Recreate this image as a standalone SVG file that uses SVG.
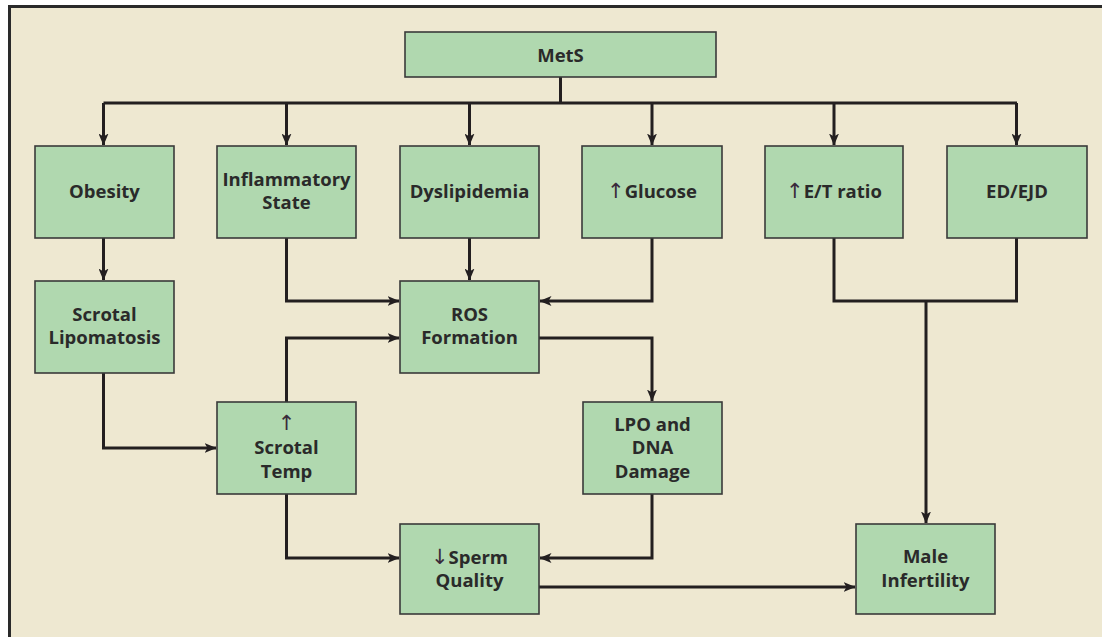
<svg xmlns="http://www.w3.org/2000/svg" width="1102" height="637" viewBox="0 0 1102 637">
<defs>
<style>
.bg{fill:#EEE8D1}
.frame{fill:none;stroke:#2a2a2a;stroke-width:3}
.box{fill:#B0D8AF;stroke:#3a3a3a;stroke-width:1.6}
.lbl{font-family:"Open Sans","Liberation Sans",sans-serif;font-weight:700;font-size:18.5px;fill:#2a2a2a;text-anchor:middle}
.arr{font-family:"DejaVu Sans",sans-serif;font-weight:400;font-size:21px;fill:#3a2a3a}
.con{fill:none;stroke:#231f20;stroke-width:3;stroke-linejoin:miter}
</style>
<marker id="ah" viewBox="0 0 12 10" refX="11.5" refY="5" markerWidth="12" markerHeight="10" markerUnits="userSpaceOnUse" orient="auto">
<path d="M0,0 L12,5 L0,10 L3,5 Z" fill="#231f20"/>
</marker>
</defs>
<rect x="0" y="0" width="1102" height="637" fill="#ffffff"/>
<rect class="bg" x="9.5" y="6.5" width="1093" height="631"/>
<path class="frame" d="M9.5,637 V6.5 H1102"/>

<g id="connectors">
<path class="con" d="M560.5,77 V103"/>
<path class="con" d="M103.5,103 H1017"/>
<path class="con" d="M103.5,103 V145" marker-end="url(#ah)"/>
<path class="con" d="M286.5,103 V145" marker-end="url(#ah)"/>
<path class="con" d="M469.5,103 V145" marker-end="url(#ah)"/>
<path class="con" d="M652,103 V145" marker-end="url(#ah)"/>
<path class="con" d="M834,103 V145" marker-end="url(#ah)"/>
<path class="con" d="M1016.5,103 V145" marker-end="url(#ah)"/>
<path class="con" d="M103.5,238 V280" marker-end="url(#ah)"/>
<path class="con" d="M286.5,238 V301 H399" marker-end="url(#ah)"/>
<path class="con" d="M469.5,238 V280" marker-end="url(#ah)"/>
<path class="con" d="M652,238 V301 H540" marker-end="url(#ah)"/>
<path class="con" d="M286.5,402 V338 H399" marker-end="url(#ah)"/>
<path class="con" d="M103.5,373 V448 H216" marker-end="url(#ah)"/>
<path class="con" d="M539,338 H652 V401" marker-end="url(#ah)"/>
<path class="con" d="M286.5,494 V558 H399" marker-end="url(#ah)"/>
<path class="con" d="M652,494 V558 H540" marker-end="url(#ah)"/>
<path class="con" d="M539,587 H855" marker-end="url(#ah)"/>
<path class="con" d="M834,238 V301 H1016.5 V238"/>
<path class="con" d="M926,301 V523" marker-end="url(#ah)"/>
</g>

<g id="mets">
<rect class="box" x="405" y="32" width="311" height="45"/>
<text class="lbl" x="560.5" y="62">MetS</text>
</g>
<g id="obesity">
<rect class="box" x="35" y="146" width="139" height="92"/>
<text class="lbl" x="104.5" y="198">Obesity</text>
</g>
<g id="inflammatory">
<rect class="box" x="217" y="146" width="139" height="92"/>
<text class="lbl" x="286.5" y="186">Inflammatory</text>
<text class="lbl" x="286.5" y="209">State</text>
</g>
<g id="dyslipidemia">
<rect class="box" x="400" y="146" width="139" height="92"/>
<text class="lbl" x="469.5" y="198">Dyslipidemia</text>
</g>
<g id="glucose">
<rect class="box" x="582" y="146" width="140" height="92"/>
<text class="lbl" x="652" y="198"><tspan class="arr">↑</tspan>Glucose</text>
</g>
<g id="et-ratio">
<rect class="box" x="765" y="146" width="138" height="92"/>
<text class="lbl" x="834" y="198"><tspan class="arr">↑</tspan>E/T ratio</text>
</g>
<g id="ed-ejd">
<rect class="box" x="947" y="146" width="140" height="92"/>
<text class="lbl" x="1017" y="198">ED/EJD</text>
</g>
<g id="scrotal-lipomatosis">
<rect class="box" x="35" y="281" width="139" height="92"/>
<text class="lbl" x="104.5" y="321">Scrotal</text>
<text class="lbl" x="104.5" y="344">Lipomatosis</text>
</g>
<g id="ros-formation">
<rect class="box" x="400" y="281" width="139" height="92"/>
<text class="lbl" x="469.5" y="321">ROS</text>
<text class="lbl" x="469.5" y="344">Formation</text>
</g>
<g id="scrotal-temp">
<rect class="box" x="217" y="402" width="139" height="92"/>
<text class="lbl" x="286.5" y="430"><tspan class="arr">↑</tspan></text>
<text class="lbl" x="286.5" y="454">Scrotal</text>
<text class="lbl" x="286.5" y="478">Temp</text>
</g>
<g id="lpo-dna">
<rect class="box" x="583" y="402" width="139" height="92"/>
<text class="lbl" x="652.5" y="431">LPO and</text>
<text class="lbl" x="652.5" y="454">DNA</text>
<text class="lbl" x="652.5" y="478">Damage</text>
</g>
<g id="sperm-quality">
<rect class="box" x="400" y="524" width="139" height="90"/>
<text class="lbl" x="469.5" y="564"><tspan class="arr">↓</tspan>Sperm</text>
<text class="lbl" x="469.5" y="587">Quality</text>
</g>
<g id="male-infertility">
<rect class="box" x="856" y="524" width="139" height="90"/>
<text class="lbl" x="925.5" y="563">Male</text>
<text class="lbl" x="925.5" y="587">Infertility</text>
</g>
</svg>
